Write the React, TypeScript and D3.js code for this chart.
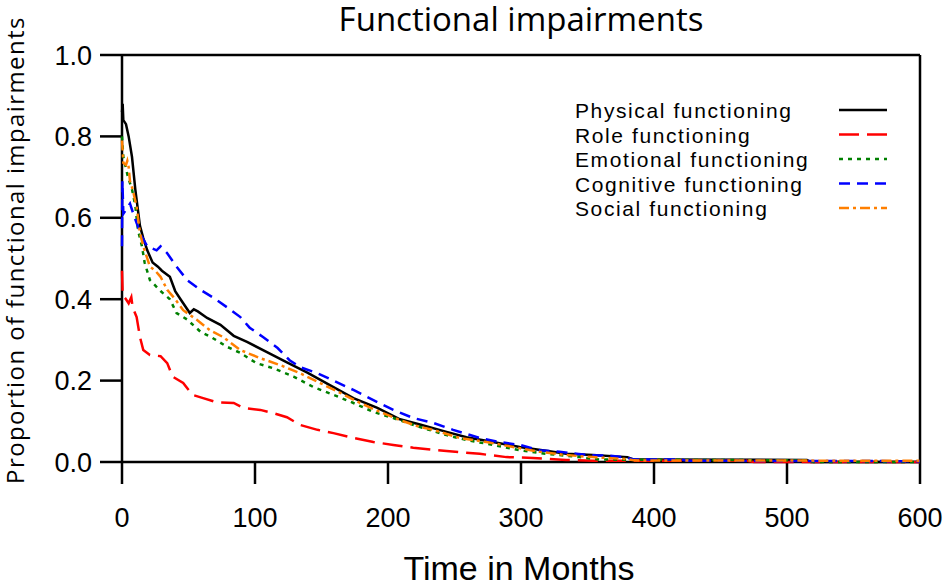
import React from 'react';
import * as d3 from 'd3';

// 数据：各维度随时间（月）变化的功能受损比例
const physical: [number, number][] = [
  [0, 0.86], [0.5, 0.88], [1, 0.84], [3, 0.83], [5, 0.8], [7.5, 0.75], [10, 0.67], [13.5, 0.58],
  [16, 0.55], [19, 0.52], [23, 0.49], [27, 0.48], [30, 0.47], [36, 0.455], [40, 0.42], [44, 0.4],
  [51, 0.366], [54, 0.375], [57, 0.37], [64, 0.354], [74, 0.337], [84, 0.31], [94, 0.295], [109, 0.27],
  [124, 0.245], [139, 0.22], [159, 0.184], [174, 0.157], [192, 0.133], [209, 0.105], [224, 0.092],
  [244, 0.074], [259, 0.061], [279, 0.049], [299, 0.037], [320, 0.027], [334, 0.02], [354, 0.017],
  [380, 0.012], [385, 0.006], [515, 0.005], [518, 0], [600, 0]
];

const role: [number, number][] = [
  [0, 0.47], [0.5, 0.41], [3, 0.4], [5, 0.39], [7, 0.405], [8, 0.38], [11, 0.356], [13.5, 0.307],
  [16, 0.275], [21, 0.263], [29, 0.26], [34, 0.243], [38, 0.21], [46, 0.194], [53, 0.165], [61, 0.157],
  [71, 0.147], [84, 0.145], [91, 0.133], [104, 0.128], [114, 0.12], [124, 0.11], [134, 0.091],
  [147, 0.079], [159, 0.071], [174, 0.059], [189, 0.049], [204, 0.042], [219, 0.035], [244, 0.027],
  [269, 0.02], [289, 0.012], [309, 0.01], [334, 0.005], [354, 0.003], [470, 0.003], [475, 0], [600, 0]
];

const emotional: [number, number][] = [
  [0, 0.8], [1, 0.75], [4.5, 0.7], [7.5, 0.67], [10, 0.63], [12, 0.57], [15, 0.53], [17, 0.49],
  [21, 0.447], [29, 0.42], [36, 0.4], [41, 0.366], [49, 0.35], [59, 0.32], [68, 0.305], [79, 0.283],
  [89, 0.268], [101, 0.243], [114, 0.23], [129, 0.21], [144, 0.184], [159, 0.165], [174, 0.145],
  [189, 0.123], [204, 0.108], [222, 0.088], [244, 0.066], [259, 0.054], [279, 0.042], [299, 0.029],
  [314, 0.022], [344, 0.012], [359, 0.006], [515, 0.004], [520, 0], [600, 0]
];

const cognitive: [number, number][] = [
  [0, 0.53], [0.3, 0.69], [1, 0.61], [3, 0.62], [6, 0.635], [8.5, 0.61], [11, 0.587], [15, 0.553],
  [19, 0.53], [26, 0.52], [29, 0.53], [34, 0.513], [41, 0.48], [49, 0.447], [59, 0.423], [68, 0.405],
  [79, 0.38], [89, 0.356], [96, 0.33], [106, 0.307], [117, 0.28], [126, 0.25], [134, 0.233],
  [147, 0.218], [159, 0.2], [174, 0.177], [189, 0.152], [204, 0.128], [219, 0.108], [234, 0.096],
  [249, 0.079], [269, 0.059], [284, 0.049], [299, 0.042], [314, 0.029], [329, 0.025], [350, 0.017],
  [369, 0.015], [380, 0.01], [385, 0.006], [420, 0.006], [425, 0.003], [600, 0.002]
];

const social: [number, number][] = [
  [0, 0.79], [1, 0.735], [3, 0.73], [4, 0.74], [5, 0.725], [6, 0.69], [8, 0.67], [11, 0.627],
  [13.5, 0.563], [16, 0.53], [21, 0.48], [25, 0.47], [29, 0.455], [34, 0.423], [40, 0.4], [46, 0.373],
  [56, 0.35], [66, 0.324], [76, 0.307], [89, 0.275], [104, 0.255], [119, 0.238], [134, 0.218],
  [149, 0.194], [164, 0.17], [179, 0.145], [194, 0.123], [209, 0.103], [224, 0.086], [234, 0.079],
  [254, 0.059], [274, 0.049], [294, 0.037], [314, 0.025], [334, 0.017], [354, 0.012], [380, 0.007],
  [385, 0.004], [600, 0.003]
];

const seriesNames = [
  'Physical functioning', 'Role functioning', 'Emotional functioning',
  'Cognitive functioning', 'Social functioning'
];
const seriesData = [physical, role, emotional, cognitive, social];
const seriesColors = ['#000000', '#ff0000', '#008000', '#0000ff', '#ff7f00'];
const seriesDash = ['none', '20,8', '4,5', '11,7', '10,4,3,4'];

const xTicks = [0, 100, 200, 300, 400, 500, 600];
const yTicks = [0, 0.2, 0.4, 0.6, 0.8, 1.0];

const W = 945;
const H = 587;
const margin = { left: 122, right: 25, top: 55, bottom: 125 };

export default function App() {
  const x = d3.scaleLinear().domain([0, 600]).range([margin.left, W - margin.right]);
  const y = d3.scaleLinear().domain([0, 1]).range([H - margin.bottom, margin.top]);
  const line = d3.line<[number, number]>()
    .x(d => x(d[0]))
    .y(d => y(d[1]))
    .curve(d3.curveLinear);

  const x0 = x(0), x1 = x(600), y0 = y(0), y1 = y(1);
  const tickLen = 22;
  const sans = 'Liberation Sans, Arial, sans-serif';
  const humanist = '"Open Sans", Lato, sans-serif';

  return (
    <div style={{ position: 'fixed', left: 0, top: 0, width: W, height: H, background: '#fff' }}>
      <svg width={W} height={H} style={{ display: 'block' }}>
        <text x={(x0 + x1) / 2} y={31} textAnchor="middle" fontFamily={humanist} fontSize={33} fill="#000">
          Functional impairments
        </text>

        {/* 坐标框 */}
        <g stroke="#000" strokeWidth={2.5} fill="none">
          <line x1={x0} x2={x0} y1={y1} y2={y0} />
          <line x1={x1} x2={x1} y1={y1} y2={y0} />
          <line x1={x0} x2={x1} y1={y1} y2={y1} />
          <line x1={x0} x2={x1} y1={y0} y2={y0} />
          {yTicks.map(t => (
            <line key={'yt' + t} x1={x0 - tickLen} x2={x0} y1={y(t)} y2={y(t)} />
          ))}
          {xTicks.map(t => (
            <line key={'xt' + t} x1={x(t)} x2={x(t)} y1={y0} y2={y0 + tickLen} />
          ))}
        </g>

        {yTicks.map(t => (
          <text key={'yl' + t} x={x0 - 30} y={y(t) + 9.5} textAnchor="end" fontFamily={sans} fontSize={27} fill="#000">
            {d3.format('.1f')(t)}
          </text>
        ))}
        {xTicks.map(t => (
          <text key={'xl' + t} x={x(t)} y={527} textAnchor="middle" fontFamily={sans} fontSize={27} fill="#000">
            {t}
          </text>
        ))}

        <text x={519} y={580} textAnchor="middle" fontFamily={sans} fontSize={34} fill="#000">
          Time in Months
        </text>
        <text
          transform={`translate(24,250) rotate(-90)`}
          textAnchor="middle" fontFamily={humanist} fontSize={24} letterSpacing={1.4} fill="#000"
        >
          Proportion of functional impairments
        </text>

        {/* 曲线 */}
        {seriesData.map((d, i) => (
          <path
            key={'s' + i}
            d={line(d) || ''}
            fill="none"
            stroke={seriesColors[i]}
            strokeWidth={2.5}
            strokeDasharray={seriesDash[i]}
          />
        ))}

        {/* 图例 */}
        {seriesNames.map((name, i) => {
          const by = 118 + i * 24.5;
          return (
            <g key={'lg' + i}>
              <text x={575} y={by} fontFamily={sans} fontSize={21} letterSpacing={1.6} fill="#000">
                {name}
              </text>
              <line
                x1={839} x2={887} y1={by - 8} y2={by - 8}
                stroke={seriesColors[i]} strokeWidth={2.5} strokeDasharray={seriesDash[i]}
              />
            </g>
          );
        })}
      </svg>
    </div>
  );
}
